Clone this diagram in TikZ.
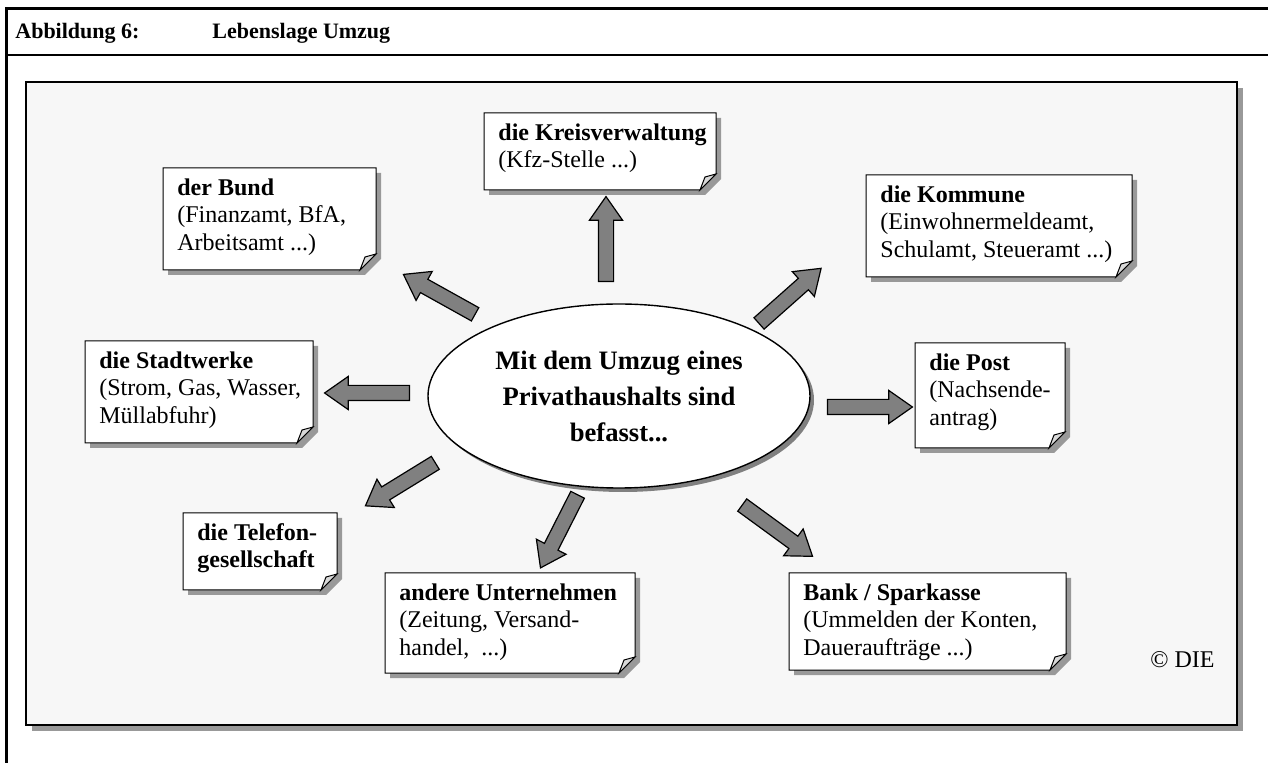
\documentclass[tikz,border=0pt]{standalone}
\usepackage{fontspec}
\setmainfont{Liberation Serif}
\usetikzlibrary{shapes.geometric,shapes.arrows,shadows}

\definecolor{panelgray}{HTML}{F7F7F7}
\definecolor{shadowgray}{HTML}{999999}
\definecolor{arrowgray}{HTML}{808080}
\definecolor{foldgray}{HTML}{D9D9D9}

\tikzset{
  notetext/.style={anchor=north west, align=left, inner xsep=7pt, inner ysep=5pt,
    font=\fontsize{12}{13.75}\selectfont},
  notebox/.style={fill=white, draw=black, line width=0.5pt},
  fold/.style={fill=foldgray, draw=black, line width=0.5pt},
  blockarrow/.style={single arrow, draw=black, fill=arrowgray, line width=0.6pt,
    inner xsep=0pt, inner ysep=3.5pt, single arrow head extend=4.5pt,
    single arrow tip angle=70},
}

% folded note: name, x, y, width, height, text
\newcommand{\foldnote}[6]{%
  \fill[shadowgray] (#2+5,#3+5) -- ++(#4,0) -- ++(0,#5-16) -- ++(-16,16) -- ++(16-#4,0) -- cycle;
  \draw[notebox] (#2,#3) -- ++(#4,0) -- ++(0,#5-16) -- ++(-16,16) -- ++(16-#4,0) -- cycle;
  \draw[fold] (#2+#4-16,#3+#5) .. controls (#2+#4-13,#3+#5-6) .. (#2+#4-11,#3+#5-13) -- (#2+#4,#3+#5-16) -- cycle;
  \node[notetext] (#1) at (#2,#3) {#6};
}

\begin{document}
\begin{tikzpicture}[x=0.5pt,y=-0.5pt]
  \useasboundingbox (0,0) rectangle (1268,763);

  % figure frame and heading
  \draw[line width=1.5pt] (1268,9) -- (6,9) -- (6,763);
  \draw[line width=1pt] (6,55) -- (1268,55);
  \node[anchor=base west, inner sep=0, font=\fontsize{11}{13}\bfseries] (fignum) at (15,39) {Abbildung 6:};
  \node[anchor=base west, inner sep=0, font=\fontsize{11}{13}\bfseries] (figtitle) at (212,39) {Lebenslage Umzug};

  % grey panel
  \draw[fill=panelgray, line width=0.8pt,
    drop shadow={shadow xshift=3pt, shadow yshift=-3pt, fill=shadowgray, opacity=1}]
    (26,82) rectangle (1237,725);

  % block arrows around the centre
  \foreach \x/\y/\a/\l/\n in {606/244.5/90/85/kreis, 444/297/150.9/82/bund,
      786/299.5/41.6/83/kommune, 372.5/393/180/85/stadtwerke, 864.5/407/0/85/post,
      405/481.5/-148.4/82/telefon, 561.5/526.5/-116.9/82/unternehmen, 773/527.5/-36.1/87/bank}
    \node[blockarrow, rotate=\a, minimum height={\l*0.5pt}] (to\n) at (\x,\y) {};

  % centre
  \node[ellipse, draw=black, fill=white, line width=0.7pt, minimum width=191pt,
    minimum height=92pt, inner sep=0, align=center, font=\fontsize{13.3}{18}\bfseries,
    drop shadow={shadow xshift=2pt, shadow yshift=-2pt, fill=arrowgray, opacity=1}]
    (umzug) at (619,396) {Mit dem Umzug eines\\Privathaushalts sind\\befasst...};

  % notes
  \foldnote{bund}{163}{168}{213}{102}{\textbf{der Bund}\\(Finanzamt, BfA,\\Arbeitsamt ...)}
  \foldnote{kreis}{484}{113}{232}{77}{\textbf{die Kreisverwaltung}\\(Kfz-Stelle ...)}
  \foldnote{kommune}{866}{175}{266}{102}{\textbf{die Kommune}\\(Einwohnermeldeamt,\\Schulamt, Steueramt ...)}
  \foldnote{stadtwerke}{85}{341}{228}{102}{\textbf{die Stadtwerke}\\(Strom, Gas, Wasser,\\Müllabfuhr)}
  \foldnote{post}{915}{343}{150}{105}{\textbf{die Post}\\(Nachsende-\\antrag)}
  \foldnote{telefon}{183}{513}{154}{77}{\textbf{die Telefon-}\\\textbf{gesellschaft}}
  \foldnote{unternehmen}{385}{573}{250}{100}{\textbf{andere Unternehmen}\\(Zeitung, Versand-\\handel,~ ...)}
  \foldnote{bank}{789}{573}{277}{97}{\textbf{Bank / Sparkasse}\\(Ummelden der Konten,\\Daueraufträge ...)}

  \node[anchor=west, inner sep=0, font=\fontsize{12}{14}\selectfont] (copyright) at (1150,660) {© DIE};
\end{tikzpicture}
\end{document}
